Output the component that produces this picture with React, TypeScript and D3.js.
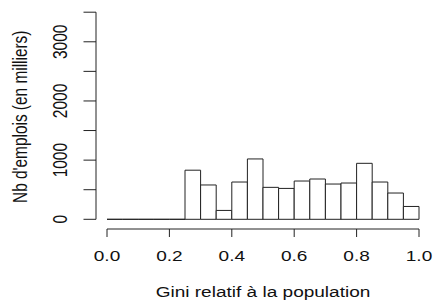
import React from "react";
import * as d3 from "d3";

// bornes des classes (largeur 0.05) et effectifs en milliers
const binStarts = [0, 0.05, 0.1, 0.15, 0.2, 0.25, 0.3, 0.35, 0.4, 0.45, 0.5, 0.55, 0.6, 0.65, 0.7, 0.75, 0.8, 0.85, 0.9, 0.95];
const counts = [0, 0, 0, 0, 0, 830, 580, 150, 630, 1020, 540, 522, 647, 681, 596, 613, 946, 630, 444, 217];
const xTicks = [0, 0.2, 0.4, 0.6, 0.8, 1.0];
const yTicks = [0, 1000, 2000, 3000];
const yMinorTicks = [0, 500, 1000, 1500, 2000, 2500, 3000, 3500];

const W = 433;
const H = 302;
const binWidth = 0.05;
const sx = 1.27; // l'image d'origine est étirée horizontalement

export default function App() {
  const x = d3.scaleLinear().domain([0, 1]).range([107, 419]);
  const y = d3.scaleLinear().domain([0, 3500]).range([219.3, 12.2]);
  const axisX = 96;
  const axisY = 229;
  const font = "'Liberation Sans', Arial, sans-serif";
  const stroke = "#222";
  const ink = "#111";

  const barPath = (b: number, c: number) => {
    const p = d3.path();
    p.moveTo(x(b), y(0));
    p.lineTo(x(b), y(c));
    p.lineTo(x(b + binWidth), y(c));
    p.lineTo(x(b + binWidth), y(0));
    p.closePath();
    return p.toString();
  };

  return (
    <svg width={W} height={H} style={{ position: "absolute", left: 0, top: 0 }} fontFamily={font}>
      <rect width={W} height={H} fill="#fff" />
      {/* barres */}
      <g>
        {binStarts.map((b, i) => (
          <path key={i} d={barPath(b, counts[i])} fill="#fff" stroke={stroke} strokeWidth={1} />
        ))}
      </g>
      {/* axe Y */}
      <line x1={axisX} x2={axisX} y1={y(3500)} y2={y(0)} stroke={stroke} strokeWidth={1} />
      {yMinorTicks.map((t) => (
        <line key={t} x1={axisX - 12.5} x2={axisX} y1={y(t)} y2={y(t)} stroke={stroke} strokeWidth={1} />
      ))}
      {yTicks.map((t) => (
        <text
          key={t}
          transform={`translate(66.5,${y(t)}) scale(${sx},1) rotate(-90)`}
          textAnchor="middle"
          fontSize={15.5}
          fill={ink}
        >
          {t}
        </text>
      ))}
      <text
        transform={`translate(26.5,${(y(0) + y(3500)) / 2 + 1}) scale(${sx},1) rotate(-90)`}
        textAnchor="middle"
        fontSize={15.4}
        fill={ink}
      >
        Nb d'emplois (en milliers)
      </text>
      {/* axe X */}
      <line x1={x(0)} x2={x(1)} y1={axisY} y2={axisY} stroke={stroke} strokeWidth={1} />
      {xTicks.map((t) => (
        <g key={t}>
          <line x1={x(t)} x2={x(t)} y1={axisY} y2={axisY + 8} stroke={stroke} strokeWidth={1} />
          <text
            transform={`translate(${x(t)},260.7) scale(${sx},1)`}
            textAnchor="middle"
            fontSize={15}
            fill={ink}
          >
            {t.toFixed(1)}
          </text>
        </g>
      ))}
      <text
        transform={`translate(${(x(0) + x(1)) / 2},297.3) scale(${sx},1)`}
        textAnchor="middle"
        fontSize={15}
        fill={ink}
      >
        Gini relatif à la population
      </text>
    </svg>
  );
}
